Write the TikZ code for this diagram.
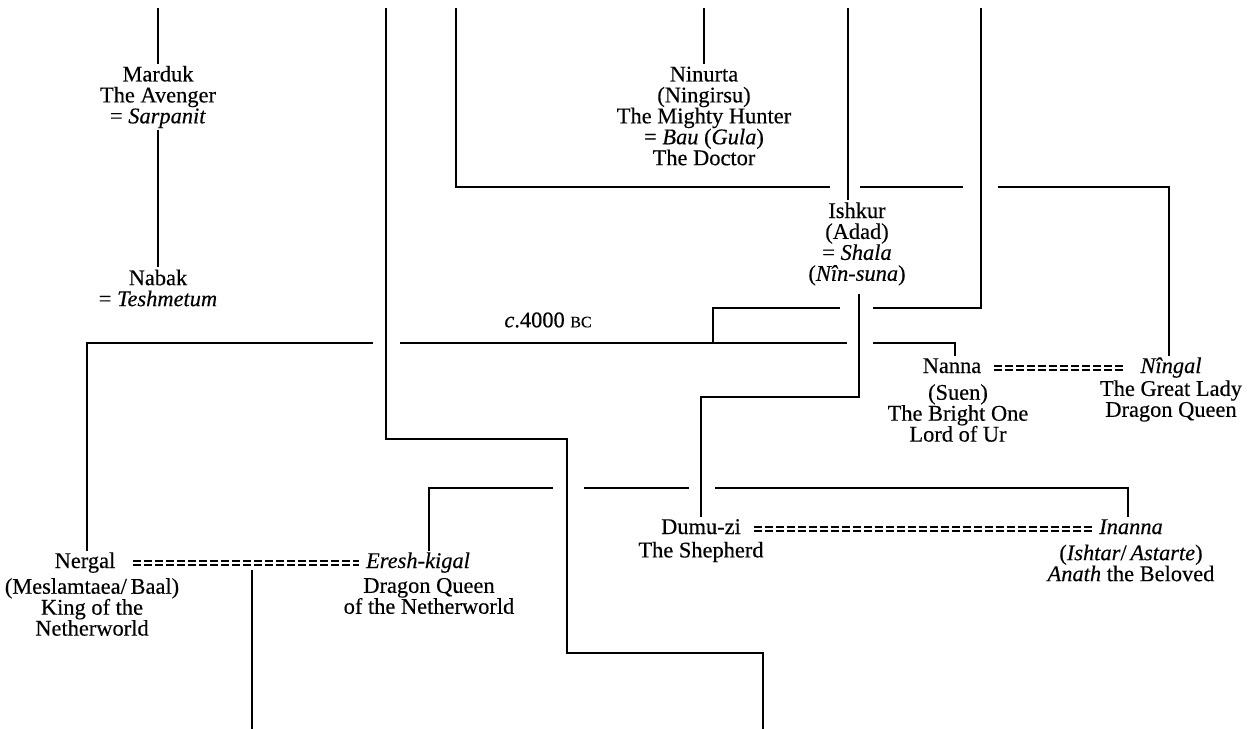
\documentclass[tikz,border=0pt]{standalone}
\usepackage{fontspec}
\setmainfont{Liberation Serif}[FakeBold=0.3]
\usetikzlibrary{calc}
\begin{document}
\begin{tikzpicture}[x=1bp,y=-1bp,
  lin/.style={line width=2.6bp, line cap=butt, line join=miter},
  txt/.style={font=\fontsize{22.5}{21}\selectfont, align=center, inner sep=2bp},
  who/.style={font=\fontsize{22.5}{21}\selectfont, inner sep=0pt, outer sep=3bp,
              text height=14bp, text depth=4bp},
  wed/.style={line width=1.7bp, double distance=1.8bp, line cap=butt,
              dash pattern=on 8bp off 3bp}
]
\path[use as bounding box, fill=white] (0,0) rectangle (1259,729);

% ---- people ----
\node[txt] (marduk) at (158,97) {Marduk\\The Avenger\\= \textit{Sarpanit}};
\node[txt] (nabak) at (158,288) {Nabak\\= \textit{Teshmetum}};
\node[txt] (ninurta) at (704,116) {Ninurta\\(Ningirsu)\\The Mighty Hunter\\= \textit{Bau} (\textit{Gula})\\The Doctor};
\node[txt] (ishkur) at (857,244) {Ishkur\\(Adad)\\= \textit{Shala}\\(\textit{Nîn-suna})};
\node[who] (nanna) at (952,368) {Nanna};
\node[txt] (nanna-d) at (958,413) {(Suen)\\The Bright One\\Lord of Ur};
\node[who] (ningal) at (1171,368) {\textit{Nîngal}};
\node[txt] (ningal-d) at (1171,401) {The Great Lady\\Dragon Queen};
\node[who] (dumuzi) at (701,529) {Dumu-zi};
\node[txt] (dumuzi-d) at (701,552) {The Shepherd};
\node[who] (inanna) at (1131,529) {\textit{Inanna}};
\node[txt] (inanna-d) at (1131,563) {(\textit{Ishtar}/\,\textit{Astarte})\\\textit{Anath} the Beloved};
\node[who] (nergal) at (85,563) {Nergal};
\node[txt] (nergal-d) at (92,607) {(Meslamtaea/\,Baal)\\King of the\\Netherworld};
\node[who] (ereshkigal) at (418,563) {\textit{Eresh-kigal}};
\node[txt] (ereshkigal-d) at (429,596) {Dragon Queen\\of the Netherworld};
\node[txt] (date) at (548,320) {\textit{c}.4000 {\fontsize{16}{16}\selectfont BC}};

% ---- loose ends at the top and bottom ----
\coordinate (tA) at (158,8);
\coordinate (tB) at (386,8);
\coordinate (tC) at (456,8);
\coordinate (tD) at (704,8);
\coordinate (tE) at (848,8);
\coordinate (tF) at (981,8);
\coordinate (bB) at (763,729);
\coordinate (bN) at (252,729);

% ---- junction points ----
\coordinate (h1l) at (456,187);
\coordinate (h1r) at (1169,187);
\coordinate (h2r) at (981,308);
\coordinate (h2l) at (713,308);
\coordinate (h3l) at (87,343);
\coordinate (h3m) at (713,343);
\coordinate (h3r) at (955,343);
\coordinate (iv) at (859,397);
\coordinate (dv) at (701,397);
\coordinate (h4l) at (429,488);
\coordinate (h4r) at (1128,488);
\coordinate (b1) at (386,439);
\coordinate (b2) at (567,439);
\coordinate (b3) at (567,653);
\coordinate (b4) at (763,653);
\coordinate (nk) at (252,570);

% ---- descent lines ----
\draw[lin] (tA) -- (marduk);
\draw[lin] (marduk) -- (nabak);
\draw[lin] (tD) -- (ninurta);
\draw[lin] (tE) -- (tE |- ishkur.north);
\draw[lin] (tB) -- (b1) -- (b2) -- (b3) -- (b4) -- (bB);

% sibling line under Ninurta, broken where lines cross
\draw[lin] (tC) -- (h1l) -- (830,187);
\draw[lin] (860,187) -- (963,187);
\draw[lin] (998,187) -- (h1r) -- (h1r |- ningal.north);

% line from the right down to the c.4000 BC branch
\draw[lin] (tF) -- (h2r) -- (873,308);
\draw[lin] (840,308) -- (h2l) -- (h3m);

% c.4000 BC branch
\draw[lin] (nergal.north -| h3l) -- (h3l) -- (373,343);
\draw[lin] (400,343) -- (847,343);
\draw[lin] (873,343) -- (h3r) -- (h3r |- nanna.north);

% Ishkur to Dumu-zi
\draw[lin, shorten <=6bp] (ishkur.south -| iv) -- (iv) -- (dv) -- (dumuzi.north);

% Eresh-kigal's sibling line to Inanna
\draw[lin] (ereshkigal.north -| h4l) -- (h4l) -- (553,488);
\draw[lin] (584,488) -- (689,488);
\draw[lin] (715,488) -- (h4r) -- (h4r |- inanna.north);

% children of Nergal and Eresh-kigal
\draw[lin] (nk) -- (bN);

% ---- marriages ----
\draw[wed, shorten <=15bp, shorten >=4bp] (nergal) -- (ereshkigal);
\draw[wed, shorten <=10bp, shorten >=12bp] (nanna) -- (ningal);
\draw[wed, shorten <=10bp, shorten >=3bp] (dumuzi) -- (inanna);
\end{tikzpicture}
\end{document}
